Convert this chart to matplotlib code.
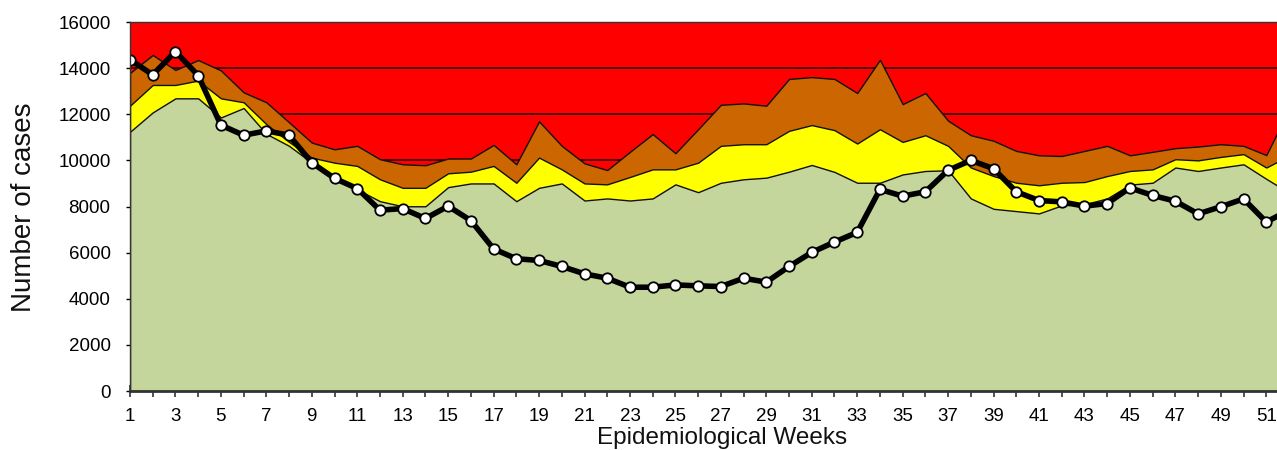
import matplotlib
matplotlib.use('Agg')
import matplotlib.pyplot as plt
import numpy as np

plt.rcParams['font.family'] = ['Liberation Sans', 'DejaVu Sans']

# Epidemic channel values (weeks 1..52)
weeks = list(range(1, 53))

# upper limit of the success zone (green)
green_top = [11240, 12080, 12690, 12690, 11860, 12270, 11150, 10630, 9900, 9320,
             8740, 8230, 8010, 8010, 8840, 9000, 9000, 8230, 8810, 9000,
             8260, 8350, 8260, 8350, 8960, 8620, 9030, 9180, 9250, 9510,
             9800, 9500, 9030, 9030, 9390, 9540, 9570, 8350, 7900, 7800,
             7700, 8050, 8100, 8350, 8950, 9030, 9690, 9540, 9690, 9830,
             9200, 8600]

# upper limit of the security zone (yellow)
yellow_top = [12370, 13270, 13270, 13460, 12690, 12520, 11570, 10800, 10120, 9900,
              9760, 9180, 8810, 8810, 9440, 9510, 9760, 9030, 10120, 9610,
              9000, 8960, 9280, 9610, 9610, 9900, 10630, 10700, 10700, 11280,
              11530, 11310, 10730, 11350, 10800, 11090, 10630, 9690, 9320, 9030,
              8920, 9030, 9060, 9320, 9540, 9610, 10050, 10000, 10150, 10270,
              9690, 10200]

# upper limit of the alert zone (orange)
orange_top = [13790, 14570, 13920, 14350, 13900, 12950, 12520, 11650, 10770, 10480,
              10630, 10050, 9830, 9790, 10080, 10080, 10670, 9830, 11690, 10630,
              9870, 9580, 10370, 11140, 10310, 11350, 12410, 12470, 12370, 13530,
              13610, 13530, 12920, 14360, 12440, 12920, 11720, 11090, 10850, 10410,
              10220, 10190, 10410, 10630, 10220, 10370, 10530, 10600, 10700, 10630,
              10230, 12200]

# observed cases
cases = [14370, 13710, 14720, 13680, 11530, 11090, 11280, 11090, 9900, 9220,
         8780, 7840, 7910, 7480, 8015, 7390, 6160, 5735, 5660, 5400,
         5080, 4890, 4500, 4500, 4600, 4560, 4530, 4890, 4720, 5400,
         6010, 6460, 6880, 8740, 8450, 8640, 9570, 10000, 9640, 8640,
         8260, 8200, 8015, 8130, 8810, 8480, 8230, 7680, 7990, 8330,
         7330, 7840]

y_ticks = list(range(0, 16001, 2000))
grid_levels = [10000, 12000, 14000]

fig = plt.figure(figsize=(12.77, 4.5), dpi=100)
ax = fig.add_axes([130 / 1277, 59 / 450, 1159 / 1277, 369 / 450])
ax.set_facecolor('#FF0000')

# gridlines sit on the red zone, hidden by the other zones
for lev in grid_levels:
    ax.axhline(lev, color='#200000', lw=1.1, zorder=0.5)

ax.fill_between(weeks, 0, orange_top, facecolor='#CC6600', edgecolor='#111111', lw=1.0, zorder=1)
ax.fill_between(weeks, 0, yellow_top, facecolor='#FFFF00', edgecolor='#111111', lw=1.0, zorder=2)
ax.fill_between(weeks, 0, green_top, facecolor='#C4D69C', edgecolor='#111111', lw=1.0, zorder=3)

ax.plot(weeks, cases, color='black', lw=4, marker='o', markersize=7.5,
        markerfacecolor='white', markeredgecolor='black', markeredgewidth=1.3, zorder=5)

ax.set_xlim(1, 52)
ax.set_ylim(0, 16000)

ax.set_xticks(weeks)
ax.set_xticklabels([str(w) if w % 2 == 1 else '' for w in weeks], fontsize=13.5)
ax.set_yticks(y_ticks)
ax.set_yticklabels([str(v) for v in y_ticks], fontsize=13.5)
ax.tick_params(axis='x', direction='inout', length=8, width=1.2, pad=8, color='#333333')
ax.tick_params(axis='y', direction='out', length=3, width=1, pad=11)

for side in ['left', 'top', 'right']:
    ax.spines[side].set_color('#333333')
    ax.spines[side].set_linewidth(1.0)
ax.spines['bottom'].set_color('#333333')
ax.spines['bottom'].set_linewidth(2.0)
for s in ax.spines.values():
    s.set_zorder(6)

fig.text(722 / 1277, 6 / 450, 'Epidemiological Weeks', ha='center', va='baseline',
         fontsize=17.5, color='#111111')
fig.text(24 / 1277, 1 - 207 / 450, 'Number of cases', ha='center', va='center',
         rotation=90, fontsize=20, color='#111111')

fig.savefig('out.png', dpi=100)
